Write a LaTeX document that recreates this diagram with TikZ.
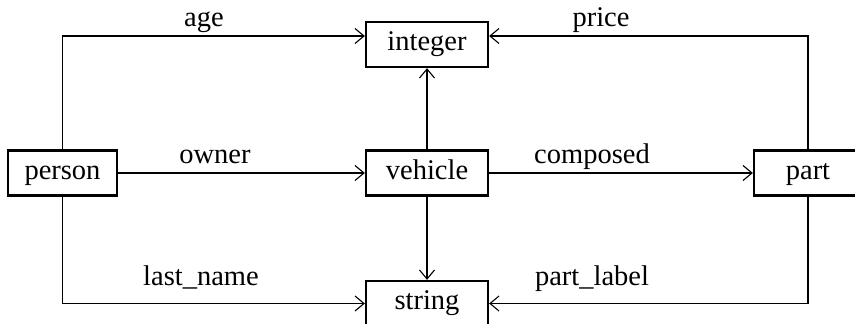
\documentclass[tikz,border=0pt]{standalone}
\usepackage{fontspec}
\setmainfont{Liberation Serif}
\usetikzlibrary{arrows.meta}
\begin{document}
\begin{tikzpicture}[x=1pt,y=-1pt,
  every node/.style={font=\fontsize{28.5}{34}\selectfont},
  typebox/.style={draw, line width=2.3pt, inner sep=0pt, minimum height=45pt,
    text height=19pt, text depth=7pt},
  conn/.style={line width=1.1pt, -{Straight Barb[length=9pt,width=15pt,line width=1.1pt]}},
  lbl/.style={anchor=base, inner sep=0pt}]
\useasboundingbox (0,0) rectangle (855,324);
\node[typebox, minimum width=109pt] (person) at (62.5,173) {person};
\node[typebox, minimum width=122pt] (integer) at (427,44.5) {integer};
\node[typebox, minimum width=122pt] (vehicle) at (427,173) {vehicle};
\node[typebox, minimum width=108pt] (part) at (808,173) {part};
\node[typebox, minimum width=122pt] (string) at (427,303.5) {string};
\draw[conn] (person.north) |- ([yshift=8.5pt]integer.west);
\draw[conn] (part.north) |- ([yshift=8.5pt]integer.east);
\draw[conn] (person.east) -- (vehicle.west);
\draw[conn] (vehicle.east) -- (part.west);
\draw[conn] (vehicle.north) -- (integer.south);
\draw[conn] (vehicle.south) -- (string.north);
\draw[conn] (person.south) |- (string.west);
\draw[conn] (part.south) |- (string.east);
\node[lbl] (lage) at (204,26) {age};
\node[lbl] (lprice) at (601,26) {price};
\node[lbl] (lowner) at (215,163) {owner};
\node[lbl] (lcomposed) at (592,163) {composed};
\node[lbl] (llast) at (201,285) {last\_name};
\node[lbl] (lpartl) at (592,285) {part\_label};
\end{tikzpicture}
\end{document}
